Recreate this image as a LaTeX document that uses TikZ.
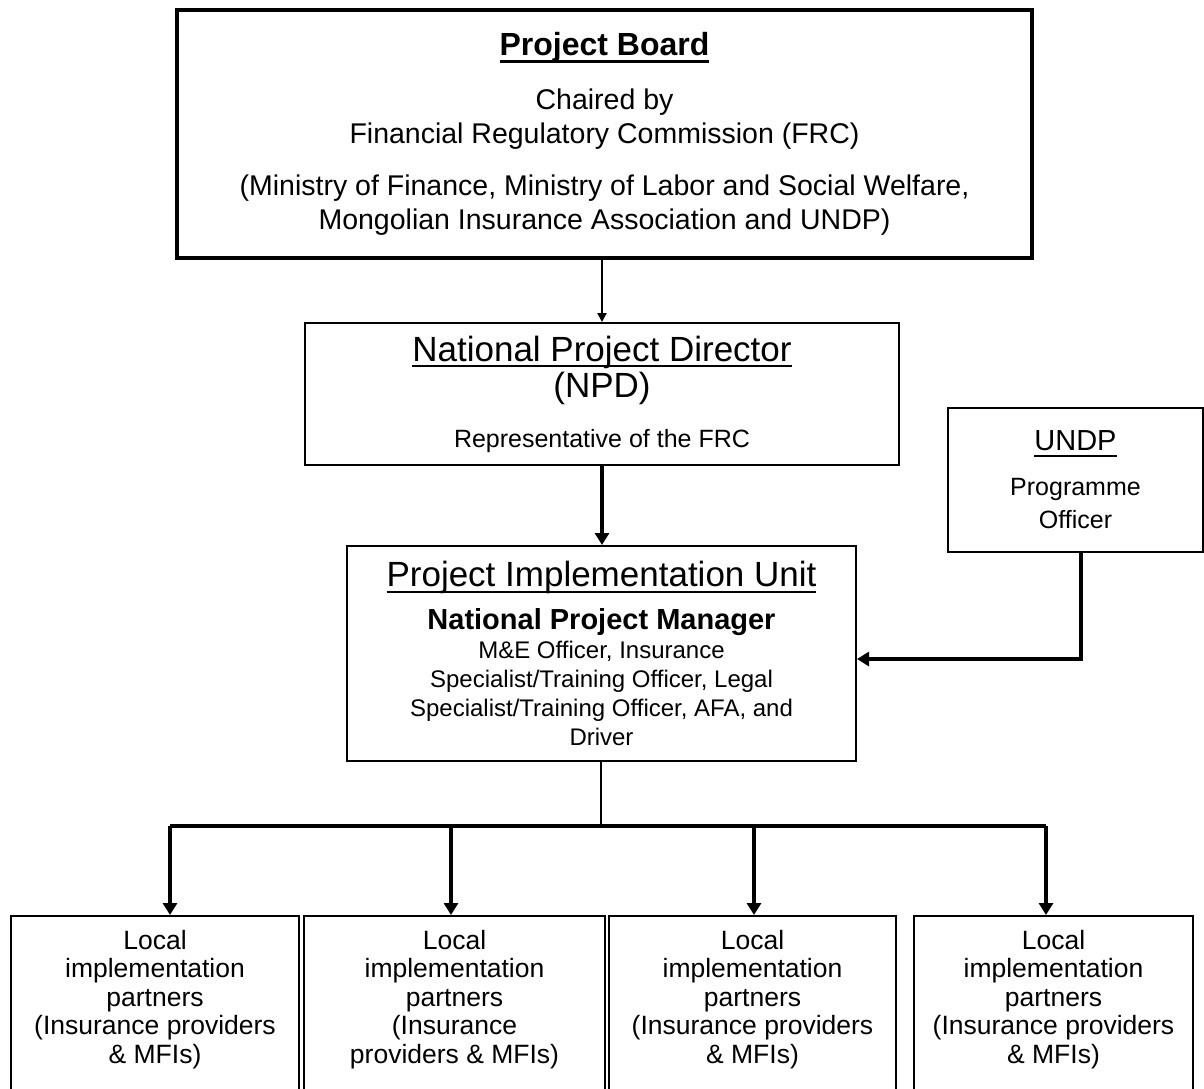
\documentclass[tikz,border=0pt]{standalone}
\usepackage{fontspec}
\setmainfont{Liberation Sans}
\usetikzlibrary{positioning,arrows.meta}

% underline with a rule of a chosen thickness
\newcommand{\undl}[2][2pt]{\leavevmode\setbox0=\hbox{#2}\rlap{\vrule width\wd0 height -4pt depth \dimexpr4pt+#1\relax}\box0}

\begin{document}
\begin{tikzpicture}[x=1pt, y=-1pt,
  box/.style = {draw, line width=2pt, align=center, inner sep=0pt, anchor=north west},
  lipbox/.style = {box, minimum height=190pt, font=\fontsize{26.5}{28.5}\selectfont},
  thinarr/.style = {line width=2pt, -{Triangle[length=9pt,width=9pt]}},
  thickarr/.style = {line width=4pt, -{Triangle[length=12pt,width=14pt]}}]
\useasboundingbox (0,0) rectangle (1204,1088);

\node[box, line width=4pt, minimum width=855pt, minimum height=248pt, font=\fontsize{28.5}{34}\selectfont] (board) at (175,8)
  {{\fontsize{32}{34}\selectfont\bfseries\undl[3pt]{Project Board}}\\[20pt]
   Chaired by\\ Financial Regulatory Commission (FRC)\\[18pt]
   (Ministry of Finance, Ministry of Labor and Social Welfare,\\
   Mongolian Insurance Association and UNDP)};

\node[box, minimum width=594pt, minimum height=142pt, font=\fontsize{35}{36}\selectfont] (npd) at (304,322)
  {\undl{National Project Director}\\ (NPD)\\[14pt]
   {\fontsize{25}{28}\selectfont Representative of the FRC}};

\node[box, minimum width=255pt, minimum height=144pt, font=\fontsize{25}{33}\selectfont] (undp) at (947,407)
  {{\fontsize{29}{33}\selectfont\undl{UNDP}}\\[12pt] Programme\\ Officer};

\node[box, minimum width=509pt, minimum height=215pt, font=\fontsize{24}{29}\selectfont] (piu) at (346,545)
  {{\fontsize{35}{36}\selectfont\undl{Project Implementation Unit}}\\[14pt]
   {\fontsize{29}{29}\selectfont\bfseries National Project Manager}\\
   M\&E Officer, Insurance\\ Specialist/Training Officer, Legal\\
   Specialist/Training Officer, AFA, and\\ Driver};

\node[lipbox, minimum width=288pt] (lip1) at (10,915)
  {Local\\ implementation\\ partners\\ (Insurance providers\\ \& MFIs)\\ \mbox{}};
\node[lipbox, minimum width=301pt] (lip2) at (303,915)
  {Local\\ implementation\\ partners\\ (Insurance\\ providers \& MFIs)\\ \mbox{}};
\node[lipbox, minimum width=287pt] (lip3) at (608,915)
  {Local\\ implementation\\ partners\\ (Insurance providers\\ \& MFIs)\\ \mbox{}};
\node[lipbox, minimum width=279pt] (lip4) at (913,915)
  {Local\\ implementation\\ partners\\ (Insurance providers\\ \& MFIs)\\ \mbox{}};

\coordinate (bus) at (601,826);
\coordinate (b1) at (170,826);
\coordinate (b2) at (451,826);
\coordinate (b3) at (754,826);
\coordinate (b4) at (1046,826);
\coordinate (turn) at (1081,659);

\draw[thinarr] (board.south -| npd.north) -- (npd.north);
\draw[thickarr] (npd.south) -- (piu.north -| npd.south);
\draw[line width=2pt] (piu.south -| bus) -- (bus);
\draw[line width=4pt] (b1) -- (b4);
\foreach \b/\l in {b1/lip1, b2/lip2, b3/lip3, b4/lip4}
  \draw[thickarr] (\b) -- (\b |- \l.north);
\draw[thickarr] (undp.south -| turn) -- (turn) -- (turn -| piu.east);

\end{tikzpicture}
\end{document}
